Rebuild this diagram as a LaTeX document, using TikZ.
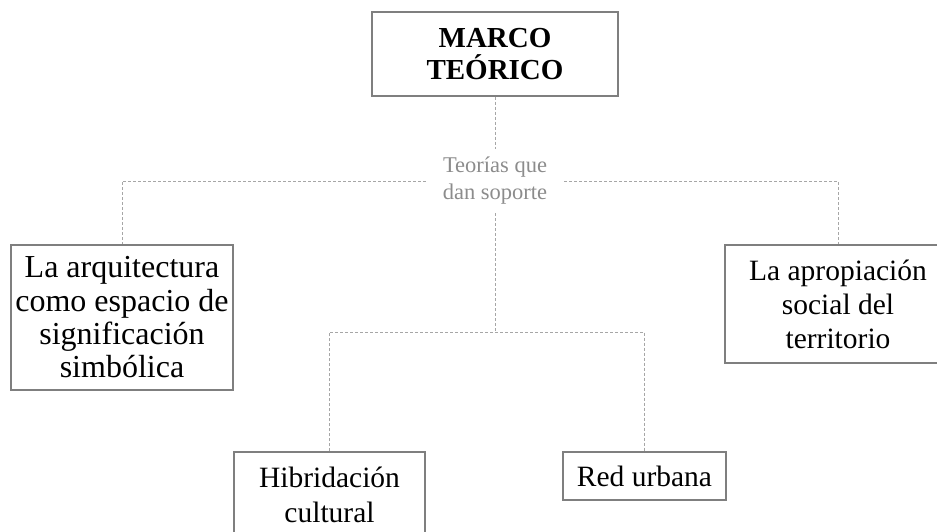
\documentclass[tikz,border=0pt]{standalone}
\usepackage{fontspec}
\setmainfont{Liberation Serif}
\definecolor{boxgray}{HTML}{7F7F7F}
\definecolor{linegray}{HTML}{A6A6A6}
\definecolor{textgray}{HTML}{8C8C8C}

\begin{document}
\begin{tikzpicture}[x=1pt,y=-1pt,
		caja/.style={draw=boxgray, line width=1.2pt, align=center, inner sep=0pt, fill=white},
		enlace/.style={draw=linegray, line width=0.9pt, dash pattern=on 3pt off 2pt}]
		\clip (0,0) rectangle (937,531);
		
		\node[caja, minimum width=246, minimum height=84, font=\fontsize{29}{32}\selectfont\bfseries] (marco) at (495,54) {MARCO\\TEÓRICO};
		\node[text=textgray, align=center, minimum width=138, minimum height=64, inner sep=0pt, font=\fontsize{22.5}{27}\selectfont] (teorias) at (495,181) {Teorías que\\dan soporte};
		\node[caja, minimum width=222, minimum height=145, font=\fontsize{32}{33.3}\selectfont] (arq) at (122,317.5) {La arquitectura\\como espacio de\\significación\\simbólica};
		\node[caja, minimum width=226, minimum height=118, font=\fontsize{29.5}{34}\selectfont] (apro) at (838,304) {La apropiación\\social del\\territorio};
		\node[caja, minimum width=191, minimum height=86, font=\fontsize{29.5}{35}\selectfont] (hibrida) at (329.5,495) {Hibridación\\cultural};
		\node[caja, minimum width=163, minimum height=48, font=\fontsize{29.5}{34}\selectfont] (red) at (644.5,476) {Red urbana};
		\coordinate (cruce) at (495,332);
		
		\draw[enlace] (marco) -- (teorias);
		\draw[enlace] (teorias.west) -| (arq);
		\draw[enlace] (teorias.east) -| (apro);
		\draw[enlace] (teorias) -- (cruce);
		\draw[enlace] (hibrida) |- (cruce) -| (red);
	\end{tikzpicture}
\end{document}
